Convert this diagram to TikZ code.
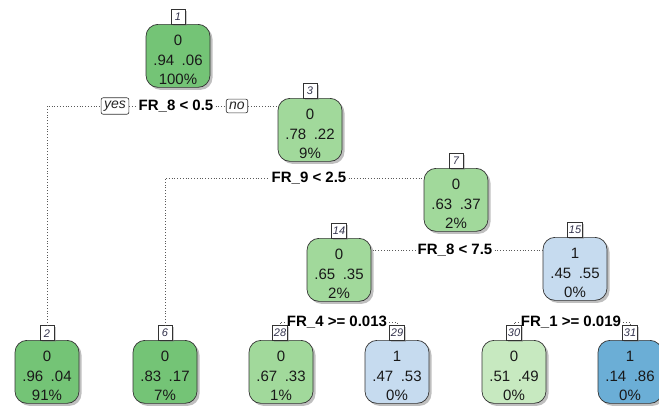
\documentclass[tikz,border=0pt]{standalone}
\usepackage{fontspec}
\setmainfont{Liberation Sans}
\usetikzlibrary{shadows}
\definecolor{gA}{HTML}{74C476}
\definecolor{gB}{HTML}{A1D99B}
\definecolor{gC}{HTML}{C7E9C0}
\definecolor{bA}{HTML}{C6DBEF}
\definecolor{bB}{HTML}{6BAED6}
\definecolor{edgec}{HTML}{333333}
\definecolor{numc}{HTML}{33334D}
\tikzset{
 treebox/.style={draw=edgec, line width=0.7pt, rounded corners=12pt, minimum width=64pt, minimum height=63pt,
   align=center, anchor=north, inner sep=0pt, font=\fontsize{15}{19.5}\selectfont, text=black!90,
   drop shadow={shadow xshift=2.5pt, shadow yshift=-2.5pt, fill=gray, opacity=0.5}},
 numbox/.style={draw=edgec, fill=white, line width=0.6pt, anchor=south, inner sep=1.5pt, minimum width=14pt,
   minimum height=15pt, font=\fontsize{11}{11}\selectfont\itshape, text=numc,
   drop shadow={shadow xshift=1.5pt, shadow yshift=-1.5pt, fill=gray, opacity=0.4}},
 splitlab/.style={font=\fontsize{15}{15}\selectfont\bfseries, inner sep=2pt, text=black},
 yn/.style={draw=edgec, fill=white, rounded corners=2pt, line width=0.6pt, font=\fontsize{14}{14}\selectfont\itshape,
   inner sep=3pt, text=black!85},
 conn/.style={dotted, draw=gray!70!black, line width=0.8pt}
}
\newcommand{\gapp}{\hspace{0.5em}}
\newcommand{\nt}[4]{\rule{0pt}{18.5pt}#1\\#2\gapp#3\\#4}
\begin{document}
\begin{tikzpicture}[x=1pt,y=-1pt]
\useasboundingbox (0,0) rectangle (659,407);
% internal nodes
\node[treebox, fill=gA] (n1) at (178,24) {\nt{0}{.94}{.06}{100\%}};
\node[numbox] (l1) at (178,25) {1};
\node[treebox, fill=gB] (n3) at (310,98) {\nt{0}{.78}{.22}{9\%}};
\node[numbox] (l3) at (310,99) {3};
\node[treebox, fill=gB] (n7) at (456,168) {\nt{0}{.63}{.37}{2\%}};
\node[numbox] (l7) at (456,169) {7};
\node[treebox, fill=gB] (n14) at (339,238) {\nt{0}{.65}{.35}{2\%}};
\node[numbox] (l14) at (339,239) {14};
\node[treebox, fill=bA] (n15) at (575,237) {\nt{1}{.45}{.55}{0\%}};
\node[numbox] (l15) at (575,238) {15};
% leaves
\node[treebox, fill=gA] (n2) at (47,340) {\nt{0}{.96}{.04}{91\%}};
\node[numbox] (l2) at (47,341) {2};
\node[treebox, fill=gA] (n6) at (165,340) {\nt{0}{.83}{.17}{7\%}};
\node[numbox] (l6) at (165,341) {6};
\node[treebox, fill=gB] (n28) at (281,340) {\nt{0}{.67}{.33}{1\%}};
\node[numbox] (l28) at (280,341) {28};
\node[treebox, fill=bA] (n29) at (397,340) {\nt{1}{.47}{.53}{0\%}};
\node[numbox] (l29) at (397,341) {29};
\node[treebox, fill=gC] (n30) at (514,340) {\nt{0}{.51}{.49}{0\%}};
\node[numbox] (l30) at (514,341) {30};
\node[treebox, fill=bB] (n31) at (630,340) {\nt{1}{.14}{.86}{0\%}};
\node[numbox] (l31) at (630,341) {31};
% split labels
\node[splitlab] (s1) at (176,106) {FR\_8 < 0.5};
\node[yn] (yes) at (115,106) {yes};
\node[yn] (no) at (237,106) {no};
\node[splitlab] (s3) at (309,178) {FR\_9 < 2.5};
\node[splitlab] (s7) at (455,250) {FR\_8 < 7.5};
\node[splitlab] (s14) at (337,322) {FR\_4 >= 0.013};
\node[splitlab] (s15) at (571,322) {FR\_1 >= 0.019};
% connectors
\draw[conn] (l2.north) |- (yes.west);
\draw[conn] (yes.east) -- (s1.west);
\draw[conn] (s1.east) -- (no.west);
\draw[conn] (no.east) -- (no.east -| n3.west);
\draw[conn] (l6.north) |- (s3.west);
\draw[conn] (s3.east) -- (s3.east -| n7.west);
\draw[conn] (s7.west) -- (s7.west -| n14.east);
\draw[conn] (s7.east) -- (s7.east -| n15.west);
\draw[conn] (s14.west) -| (l28.north);
\draw[conn] (s14.east) -| (l29.north);
\draw[conn] (s15.west) -| (l30.north);
\draw[conn] (s15.east) -| (l31.north);
\end{tikzpicture}
\end{document}
